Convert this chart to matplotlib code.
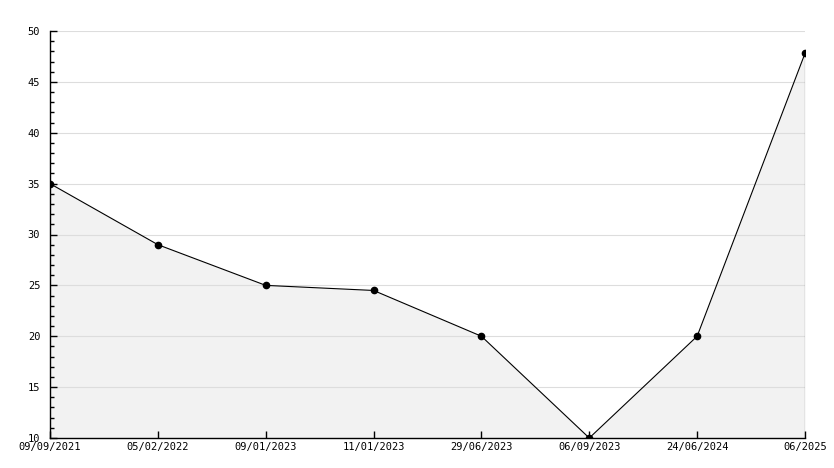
import matplotlib
matplotlib.use("Agg")
import matplotlib.pyplot as plt
from matplotlib.ticker import MultipleLocator

dates = ["09/09/2021", "05/02/2022", "09/01/2023", "11/01/2023",
         "29/06/2023", "06/09/2023", "24/06/2024", "06/2025"]
values = [35, 29, 25, 24.5, 20, 10, 20, 47.8]
y_ticks = [10, 15, 20, 25, 30, 35, 40, 45, 50]

fig = plt.figure(figsize=(8.34, 4.68), dpi=100)
ax = fig.add_axes([50/834, 30/468, 755/834, 407/468])

x = list(range(len(dates)))
ax.fill_between(x, values, 10, color="#f2f2f2", lw=0, zorder=1)
for yv in y_ticks[1:]:
    ax.axhline(yv, color="#dddddd", lw=0.8, zorder=1.5)
ax.plot(x, values, color="black", lw=0.8, marker="o", ms=4.5, zorder=3)
ax.plot([x[-1], x[-1]], [10, values[-1]], color="black", lw=0.8, zorder=2)

ax.set_xlim(0, len(dates) - 1)
ax.set_ylim(10, 50)
ax.set_xticks(x)
ax.set_xticklabels(dates)
ax.set_yticks(y_ticks)
ax.yaxis.set_minor_locator(MultipleLocator(1))
ax.set_axisbelow(False)

for s in ["top", "right"]:
    ax.spines[s].set_visible(False)
for s in ["left", "bottom"]:
    ax.spines[s].set_linewidth(1.0)
    ax.spines[s].set_zorder(4)

ax.tick_params(axis="both", which="major", direction="in", length=5, width=1,
               labelsize=7.5)
ax.tick_params(axis="y", which="minor", direction="in", length=3, width=1)
ax.tick_params(axis="x", pad=3)
ax.tick_params(axis="y", pad=7)
for lbl in ax.get_xticklabels() + ax.get_yticklabels():
    lbl.set_fontfamily("DejaVu Sans Mono")

fig.savefig("out.png", dpi=100)
